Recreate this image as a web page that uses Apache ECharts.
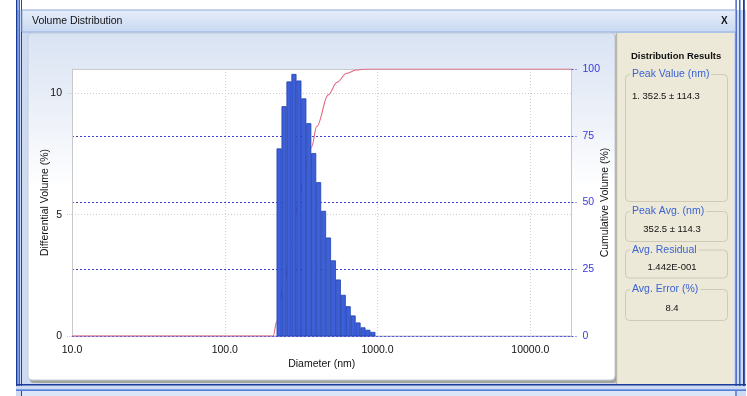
<!DOCTYPE html>
<html><head><meta charset="utf-8">
<script src="https://cdn.jsdelivr.net/npm/echarts@6/dist/echarts.min.js"></script>
<style>html,body{margin:0;padding:0;background:#fff}#c{width:747px;height:396px}</style>
</head><body><div id="c"></div>
<script>
// ---- data ----
const binLower = [218.6,235.5,253.7,273.3,294.3,317.0,341.6,367.9,396.3,426.8,459.7,495.2,533.3,574.5,618.7,666.5,717.9,773.3,832.8,897.3];
const binUpper = [235.5,253.7,273.3,294.3,317.0,341.6,367.9,396.3,426.8,459.7,495.2,533.3,574.5,618.7,666.5,717.9,773.3,832.8,897.3,966.5];
const diffVolume = [7.71,9.45,10.47,10.78,10.51,9.77,8.75,7.52,6.32,5.14,4.04,3.10,2.31,1.68,1.21,0.83,0.54,0.34,0.24,0.15];
const cumDiameter = [10,150,207.7,218.6,244.0,271.2,301.3,338.9,370.5,399.5,475.9,542.5,627.9,722.1,848.4,1200,18600];
const cumVolume   = [0,0,0,5.4,19,33.4,49,63.4,70.9,78.4,90.3,95,98.4,99.6,100,100,100];
const xTicks = [10,100,1000,10000];
const xRange = [10,18600];
const leftRange = [0,11];
const rightRange = [0,100];
const results = {
  title: 'Distribution Results',
  peakValueLabel: 'Peak Value (nm)', peakValue: '1. 352.5 \u00b1 114.3',
  peakAvgLabel: 'Peak Avg. (nm)', peakAvg: '352.5 \u00b1 114.3',
  residualLabel: 'Avg. Residual', residual: '1.442E-001',
  errorLabel: 'Avg. Error (%)', error: '8.4'
};

const FONT = '"Liberation Sans", Arial, sans-serif';
const chart = echarts.init(document.getElementById('c'), null, {renderer:'canvas'});

function box(y, h, label) {
  return [
    {type:'rect', z:-5, shape:{x:625.5,y:y+0.5,width:102,height:h,r:4}, style:{fill:'none',stroke:'#cfcab6',lineWidth:1}},
    {type:'text', z:10, style:{x:630,y:y+0.5,text:label,fill:'#3b63d4',font:'10.5px '+FONT,verticalAlign:'middle',backgroundColor:'#ece9d8',padding:[0,2,0,2]}}
  ];
}

const graphics = [
  {type:'rect', z:-100, shape:{x:0,y:0,width:747,height:396}, style:{fill:'#ffffff'}},
  {type:'rect', z:-99, shape:{x:16,y:10,width:730,height:386}, style:{fill:'#cddaf2'}},
  // outer borders
  {type:'rect', z:-98, shape:{x:16,y:0,width:1.5,height:386}, style:{fill:'#1a3a9a'}},
  {type:'rect', z:-98, shape:{x:18.5,y:0,width:1.5,height:386}, style:{fill:'#3566d6'}},
  {type:'rect', z:-98, shape:{x:21,y:0,width:1,height:386}, style:{fill:'#1f47b5'}},
  {type:'rect', z:-98, shape:{x:735.5,y:0,width:1.2,height:386}, style:{fill:'#1f47b5'}},
  {type:'rect', z:-98, shape:{x:739,y:0,width:1.5,height:386}, style:{fill:'#3566d6'}},
  {type:'rect', z:-98, shape:{x:743,y:0,width:1.8,height:386}, style:{fill:'#1a3a9a'}},
  {type:'rect', z:-98, shape:{x:16,y:384,width:730,height:1.6}, style:{fill:'#1a3a9a'}},
  {type:'rect', z:-98, shape:{x:16,y:389.5,width:730,height:1.2}, style:{fill:'#2f5fcf'}},
  {type:'rect', z:-97, shape:{x:22,y:391,width:713,height:5}, style:{fill:'#dbe6f8'}},
  {type:'rect', z:-98, shape:{x:21,y:391,width:1,height:5}, style:{fill:'#1f47b5'}},
  {type:'rect', z:-98, shape:{x:735.5,y:391,width:1,height:5}, style:{fill:'#1f47b5'}},
  // title bar
  {type:'rect', z:-97, shape:{x:22,y:10,width:713.5,height:22},
    style:{fill:new echarts.graphic.LinearGradient(0,0,0,1,[{offset:0,color:'#e6eefb'},{offset:1,color:'#c8d8f1'}]),stroke:'#8eaadb',lineWidth:1}},
  {type:'text', z:10, style:{x:32,y:21.5,text:'Volume Distribution',fill:'#111',font:'10.5px '+FONT,verticalAlign:'middle'}},
  {type:'text', z:10, style:{x:721,y:21.5,text:'X',fill:'#111',font:'bold 10px '+FONT,verticalAlign:'middle'}},
  // plot panel
  {type:'rect', z:-96, shape:{x:30,y:35,width:587,height:348,r:4}, style:{fill:'#a3a39c'}},
  {type:'rect', z:-95, shape:{x:28,y:33,width:587,height:347,r:4},
    style:{fill:new echarts.graphic.LinearGradient(0,0,0,1,[{offset:0,color:'#d9e3f3'},{offset:0.25,color:'#eef2f9'},{offset:0.45,color:'#ffffff'},{offset:1,color:'#ffffff'}]),stroke:'#c2ccdb',lineWidth:1}},
  // plot area background and frame
  {type:'rect', z:-90, shape:{x:72,y:69,width:499.5,height:267}, style:{fill:'#ffffff'}},
  {type:'rect', z:-89, shape:{x:72.5,y:69.5,width:499,height:266.5}, style:{fill:'none',stroke:'#c9c9c9',lineWidth:1}},
  // results panel
  {type:'rect', z:-95, shape:{x:617,y:33,width:117,height:351}, style:{fill:'#ece9d8'}},
  {type:'rect', z:-94, shape:{x:616,y:33,width:1.2,height:351}, style:{fill:'#b9b7aa'}},
  {type:'text', z:10, style:{x:631,y:56.5,text:results.title,fill:'#111',font:'bold 9.5px '+FONT,verticalAlign:'middle'}},
  ...box(74,127,results.peakValueLabel),
  {type:'text', z:10, style:{x:632,y:96,text:results.peakValue,fill:'#111',font:'9.5px '+FONT,verticalAlign:'middle'}},
  ...box(211,30,results.peakAvgLabel),
  {type:'text', z:10, style:{x:672,y:229.5,text:results.peakAvg,fill:'#111',font:'9.5px '+FONT,align:'center',verticalAlign:'middle'}},
  ...box(249.5,28,results.residualLabel),
  {type:'text', z:10, style:{x:672,y:267.5,text:results.residual,fill:'#111',font:'9.5px '+FONT,align:'center',verticalAlign:'middle'}},
  ...box(289,31,results.errorLabel),
  {type:'text', z:10, style:{x:672,y:308.5,text:results.error,fill:'#111',font:'9.5px '+FONT,align:'center',verticalAlign:'middle'}}
];

function isTick(v){ return xTicks.some(t => Math.abs(t - v) / t < 1e-6); }

const option = {
  animation:false,
  textStyle:{fontFamily:FONT},
  graphic:{elements:graphics},
  grid:{left:72, right:175.5, top:69, bottom:60, show:false},
  xAxis:{
    type:'log', logBase:10, min:xRange[0], max:xRange[1],
    name:'Diameter (nm)', nameLocation:'middle', nameGap:23, nameMoveOverlap:false,
    nameTextStyle:{color:'#111', fontSize:10.5, fontFamily:FONT},
    axisLine:{show:true, lineStyle:{color:'#5c5cd6', type:[2,2], width:1}},
    axisTick:{show:false},
    axisLabel:{color:'#111', fontSize:10.5, margin:9, formatter:v => isTick(v) ? Number(v).toFixed(1) : ''},
    splitLine:{show:true, showMinLine:false, showMaxLine:false, lineStyle:{color:'#cfcfcf', type:[1,2], width:1}},
    minorTick:{show:false}, minorSplitLine:{show:false}
  },
  yAxis:[
    {type:'value', position:'left', min:leftRange[0], max:leftRange[1], interval:5,
     name:'Differential Volume (%)', nameLocation:'middle', nameRotate:90, nameGap:21, nameMoveOverlap:false,
     nameTextStyle:{color:'#111', fontSize:10.5, fontFamily:FONT},
     axisLine:{show:true, lineStyle:{color:'#c9c9c9'}},
     axisTick:{show:true, length:6, lineStyle:{color:'#cfcfcf', type:[1,1]}},
     axisLabel:{color:'#111', fontSize:10.5, margin:10, showMaxLabel:false},
     splitLine:{show:true, showMinLine:false, showMaxLine:false, lineStyle:{color:'#cccccc', type:[1,2]}}},
    {type:'value', position:'right', min:rightRange[0], max:rightRange[1], interval:25,
     name:'Cumulative Volume (%)', nameLocation:'middle', nameRotate:90, nameGap:28, nameMoveOverlap:false,
     nameTextStyle:{color:'#111', fontSize:10.5, fontFamily:FONT},
     axisLine:{show:true, lineStyle:{color:'#c9c9c9'}},
     axisTick:{show:true, length:5, lineStyle:{color:'#4a4ad8', type:[2,2]}},
     axisLabel:{color:'#3a3ae0', fontSize:10.5, margin:11},
     splitLine:{show:true, showMinLine:false, showMaxLine:false, lineStyle:{color:'#4040d0', type:[2,2], width:1}}}
  ],
  series:[
    {type:'line', yAxisIndex:1, z:2, data:cumDiameter.map((d,i)=>[d,cumVolume[i]]),
     showSymbol:false, smooth:0.35, smoothMonotone:'x',
     lineStyle:{color:'#e5647f', width:1.1}},
    {type:'custom', yAxisIndex:0, z:3,
     data:binLower.map((l,i)=>[l, binUpper[i], diffVolume[i]]),
     encode:{x:[0,1], y:2},
     renderItem:function(params, api){
       const p1 = api.coord([api.value(0), api.value(2)]);
       const p2 = api.coord([api.value(1), 0]);
       return {type:'rect', shape:{x:p1[0]+0.3, y:p1[1], width:p2[0]-p1[0]-0.6, height:p2[1]-p1[1]},
               style:{fill:'#3d5fd8', stroke:'#2242b0', lineWidth:0.8}};
     }}
  ]
};
chart.setOption(option);
</script></body></html>
